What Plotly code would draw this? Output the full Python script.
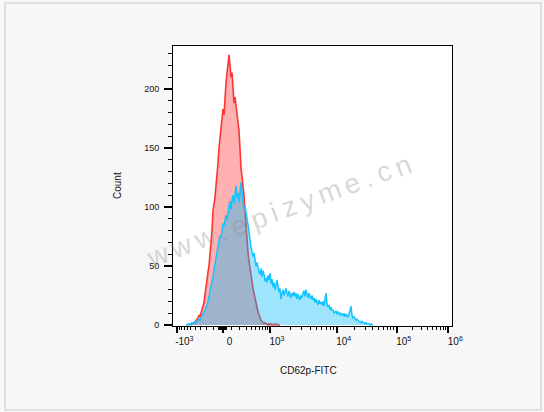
import numpy as np
import plotly.graph_objects as go

# ---------------- data (display-channel bins, counts) ----------------
isotype_bins = list(range(18, 108))
isotype_counts = [0, 1, 1, 2, 2, 4, 5, 6, 8, 7, 10, 13, 16, 19, 26, 31, 38, 45, 50, 60,
                  68, 80, 97, 102, 108, 118, 126, 137, 150, 158, 163, 172, 183, 178, 197, 205,
                  213, 220, 229, 220, 210, 214, 203, 188, 193, 184, 178, 172, 165, 146, 133,
                  126, 119, 110, 96, 82, 70, 62, 54, 47, 42, 35, 31, 27, 22, 18, 15, 11, 8, 5,
                  4, 3, 2, 1, 2, 1, 1, 0, 1, 0, 1, 0, 0, 1, 0, 0, 1, 0, 0, 0]

sample_bins = list(range(13, 201))
sample_counts = [0, 0, 1, 0, 1, 1, 2, 1, 2, 3, 2, 3, 4, 5, 4, 6, 8, 9, 11, 12,
                 14, 17, 20, 24, 27, 31, 36, 41, 47, 52, 58, 62, 67, 70, 76, 74, 82, 86, 84, 90,
                 93, 89, 97, 101, 105, 98, 106, 110, 103, 112, 118, 108, 112, 104, 117, 121, 112, 102, 98, 101,
                 94, 90, 85, 79, 70, 66, 62, 58, 61, 54, 50, 53, 47, 45, 43, 48, 41, 46, 43, 37,
                 40, 36, 42, 38, 44, 35, 39, 32, 36, 30, 34, 38, 33, 28, 31, 22, 27, 30, 25, 28,
                 31, 27, 24, 29, 26, 23, 27, 25, 28, 24, 27, 22, 26, 24, 21, 25, 23, 27, 29, 24,
                 30, 26, 23, 27, 24, 22, 25, 21, 23, 19, 22, 20, 17, 21, 18, 19, 17, 20, 16, 22,
                 27, 18, 15, 17, 13, 15, 12, 13, 10, 11, 12, 9, 11, 10, 8, 10, 9, 8, 10, 7,
                 9, 8, 7, 9, 13, 16, 8, 6, 7, 5, 4, 5, 4, 3, 3, 2, 3, 2, 2, 1,
                 2, 1, 1, 1, 0, 1, 0, 0]

x_major_values = [-1e3, 0, 1e3, 1e4, 1e5, 1e6]
x_major_labels = ["-10<sup>3</sup>", "0", "10<sup>3</sup>", "10<sup>4</sup>",
                  "10<sup>5</sup>", "10<sup>6</sup>"]
y_major_values = [0, 50, 100, 150, 200]
watermark = "www.epizyme.cn"

# ---------------- biexponential-like display transform for ticks ----------------
ZERO_POS = 49.5
DECADE_POS = {3: 97.0, 4: 163.7, 5: 223.7, 6: 275.3}
NEG_1E3_POS = 4.3
W = 230.0


def disp(v):
    if v >= 1000:
        k = int(np.floor(np.log10(v)))
        k = min(k, 5)
        f = np.log10(v) - k
        return DECADE_POS[k] + f * (DECADE_POS[k + 1] - DECADE_POS[k])
    if v >= 0:
        b = (DECADE_POS[3] - ZERO_POS) / np.arcsinh(1000 / W)
        return ZERO_POS + b * np.arcsinh(v / W)
    b = (ZERO_POS - NEG_1E3_POS) / np.arcsinh(1000 / W)
    return ZERO_POS - b * np.arcsinh(-v / W)


minor_vals = []
minor_vals += [-m * 100 for m in range(1, 10)]
minor_vals += [s * m for s in (-1, 1) for m in (10, 20, 30, 40)]
minor_vals += [m * 100 for m in range(1, 10)]
for dec in (1e3, 1e4, 1e5):
    minor_vals += [m * dec for m in range(2, 10)]

FONT = "Liberation Sans, Arial, sans-serif"

fig = go.Figure()
fig.add_trace(go.Scatter(
    x=isotype_bins, y=isotype_counts, mode="lines", fill="tozeroy",
    line=dict(color="#ff3333", width=1.6), fillcolor="rgba(255,0,0,0.31)",
    showlegend=False, hoverinfo="skip"))
fig.add_trace(go.Scatter(
    x=sample_bins, y=sample_counts, mode="lines", fill="tozeroy",
    line=dict(color="#14c4ff", width=1.5), fillcolor="rgba(0,185,250,0.38)",
    showlegend=False, hoverinfo="skip"))

L, R, T, B = 173, 92, 46, 86
PW, PH = 544 - L - R, 412 - T - B


def px(xp):
    return (xp - L) / PW


def py(yp):
    return 1 - (yp - T) / PH


# watermark: individual characters spaced along a slanted line
char_w = {"w": 0.722, ".": 0.278, "e": 0.556, "p": 0.556, "i": 0.222, "z": 0.5,
          "y": 0.5, "m": 0.833, "c": 0.5, "n": 0.556}
gap = 0.3
centers = []
pos = 0.0
for ch in watermark:
    centers.append(pos + char_w[ch] / 2)
    pos += char_w[ch] + gap
start, end = np.array([158.0, 255.0]), np.array([403.0, 165.0])
span = centers[-1] - centers[0]
angle = np.degrees(np.arctan2(start[1] - end[1], end[0] - start[0]))
wm_annots = []
for ch, c in zip(watermark, centers):
    p = start + (end - start) * (c - centers[0]) / span
    wm_annots.append(dict(text=ch, xref="paper", yref="paper", x=px(p[0]), y=py(p[1]),
                          textangle=-angle, showarrow=False, xanchor="center", yanchor="middle",
                          font=dict(family=FONT, size=28, color="rgba(140,140,140,0.35)")))

fig.update_layout(
    width=544, height=412,
    margin=dict(l=L, r=R, t=T, b=B, pad=0),
    paper_bgcolor="#f7f7f7", plot_bgcolor="white",
    font=dict(family=FONT, size=10, color="#111"),
    xaxis=dict(
        range=[0, PW], showgrid=False, zeroline=False,
        showline=True, linecolor="black", linewidth=1, mirror=True,
        tickmode="array", tickvals=[disp(v) for v in x_major_values],
        ticktext=x_major_labels, ticks="outside", ticklen=6, tickwidth=2,
        tickcolor="black", ticklabelshift=7,
        tickfont=dict(family=FONT, size=10, color="#111"),
        minor=dict(tickmode="array", tickvals=[disp(v) for v in minor_vals],
                   ticks="outside", ticklen=3, tickwidth=1, tickcolor="black"),
    ),
    yaxis=dict(
        range=[-0.85, 236.4], showgrid=False, zeroline=False,
        showline=True, linecolor="black", linewidth=1, mirror=True,
        tickmode="array", tickvals=y_major_values,
        ticks="outside", ticklen=8, tickwidth=2, tickcolor="black",
        ticklabelstandoff=3,
        tickfont=dict(family=FONT, size=9, color="#111"),
        minor=dict(dtick=10, tick0=0, ticks="outside", ticklen=4, tickwidth=1,
                   tickcolor="black", showgrid=False),
    ),
    annotations=[
        dict(text="CD62p-FITC", xref="paper", yref="paper", x=px(308), y=py(378),
             showarrow=False, font=dict(family=FONT, size=10, color="#111")),
        dict(text="Count", xref="paper", yref="paper", x=px(109.5), y=py(186),
             textangle=-90, showarrow=False, font=dict(family=FONT, size=10, color="#111")),
    ] + wm_annots,
    shapes=[
        dict(type="rect", xref="paper", yref="paper",
             x0=px(5), x1=px(541), y0=py(410), y1=py(3),
             line=dict(color="#d8d8d8", width=1.5), layer="below"),
    ],
)

fig.write_html("out.html", config={"displayModeBar": False},
               post_script="document.body.style.margin='0px';document.body.style.padding='0px';")
